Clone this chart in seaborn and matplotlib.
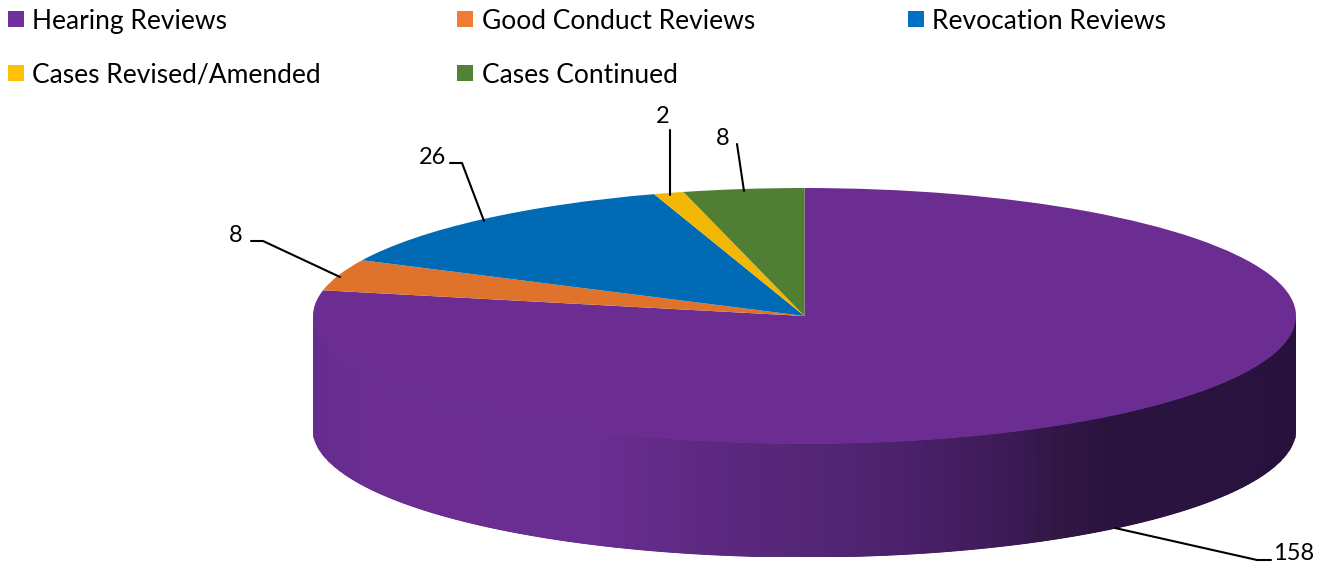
import numpy as np
import matplotlib
matplotlib.use("Agg")
import matplotlib.pyplot as plt
from matplotlib.colors import LinearSegmentedColormap
from matplotlib.patches import Rectangle
import seaborn as sns

#chart values
categories = ["Hearing Reviews", "Good Conduct Reviews", "Revocation Reviews", "Cases Revised/Amended", "Cases Continued"]
values = [158, 8, 26, 2, 8]
top_colors = ["#6B2D92", "#E0732C", "#006AB4", "#F2B705", "#507E32"]
legend_colors = ["#7030A0", "#ED7D31", "#0070C0", "#FFC000", "#548235"]

W, H = 1326, 563
sns.set_theme(style="white")
plt.rcParams['font.family'] = ['Lato', 'DejaVu Sans']

fig = plt.figure(figsize=(W / 100, H / 100), dpi=100)

#pie axes, the unit circle gets squashed to the ellipse of the top face
left, right, top, bottom = 313, 1296, 188, 557
ry = 128
depth = 113 / ry
ax = fig.add_axes([left / W, 1 - bottom / H, (right - left) / W, (bottom - top) / H])
ax.pie(values, colors=sns.color_palette(top_colors), startangle=90, counterclock=False, radius=1,
       wedgeprops={"linewidth": 0})
ax.set_aspect("auto")
ax.set_xlim(-1, 1)
ax.set_ylim(-1 - depth, 1)
ax.axis("off")

#side wall of the pie, shaded from left to right
wall_cmap = LinearSegmentedColormap.from_list("wall", [
    (0.00, "#662B8E"), (0.06, "#6B2D92"), (0.29, "#6A2D91"), (0.39, "#5E2983"),
    (0.50, "#552676"), (0.60, "#4B216B"), (0.70, "#3E1B58"), (0.76, "#311745"),
    (0.81, "#2B1340"), (1.00, "#28123C")])
x = np.linspace(-1, 1, 800)
yTop = -np.sqrt(1 - x ** 2)
X = np.vstack([x, x])
Y = np.vstack([yTop, yTop - depth])
C = np.vstack([x, x])
ax.pcolormesh(X, Y, C, cmap=wall_cmap, vmin=-1, vmax=1, shading="gouraud", zorder=0)

#overlay in pixel coordinates for the legend, labels and leader lines
over = fig.add_axes([0, 0, 1, 1])
over.set_xlim(0, W)
over.set_ylim(H, 0)
over.axis("off")
over.patch.set_alpha(0)

legendSpots = [(8, 11), (457, 11), (908, 11), (8, 65), (457, 65)]
for name, color, (lx, ly) in zip(categories, legend_colors, legendSpots):
    over.add_patch(Rectangle((lx, ly), 16, 16, facecolor=color, edgecolor="none"))
    over.text(lx + 24.5, ly + 10.5, name, fontsize=19, color="black", va="center", ha="left")

#data labels with their leader lines
labelSpots = [(1294, 553.5), (236, 235.5), (433, 157.5), (663, 116.5), (723, 138.5)]
leaders = [
    [(1115, 528), (1257, 560), (1271, 560)],
    [(251, 241), (263, 241), (340, 277)],
    [(450, 163), (462, 163), (484, 221)],
    [(670, 130), (670, 195)],
    [(737, 144), (744, 191)],
]
for v, (tx, ty), line in zip(values, labelSpots, leaders):
    over.text(tx, ty, str(v), fontsize=17, color="black", va="center", ha="center")
    over.plot([p[0] for p in line], [p[1] for p in line], color="black", lw=1.5)

fig.savefig("out.png", dpi=100)
